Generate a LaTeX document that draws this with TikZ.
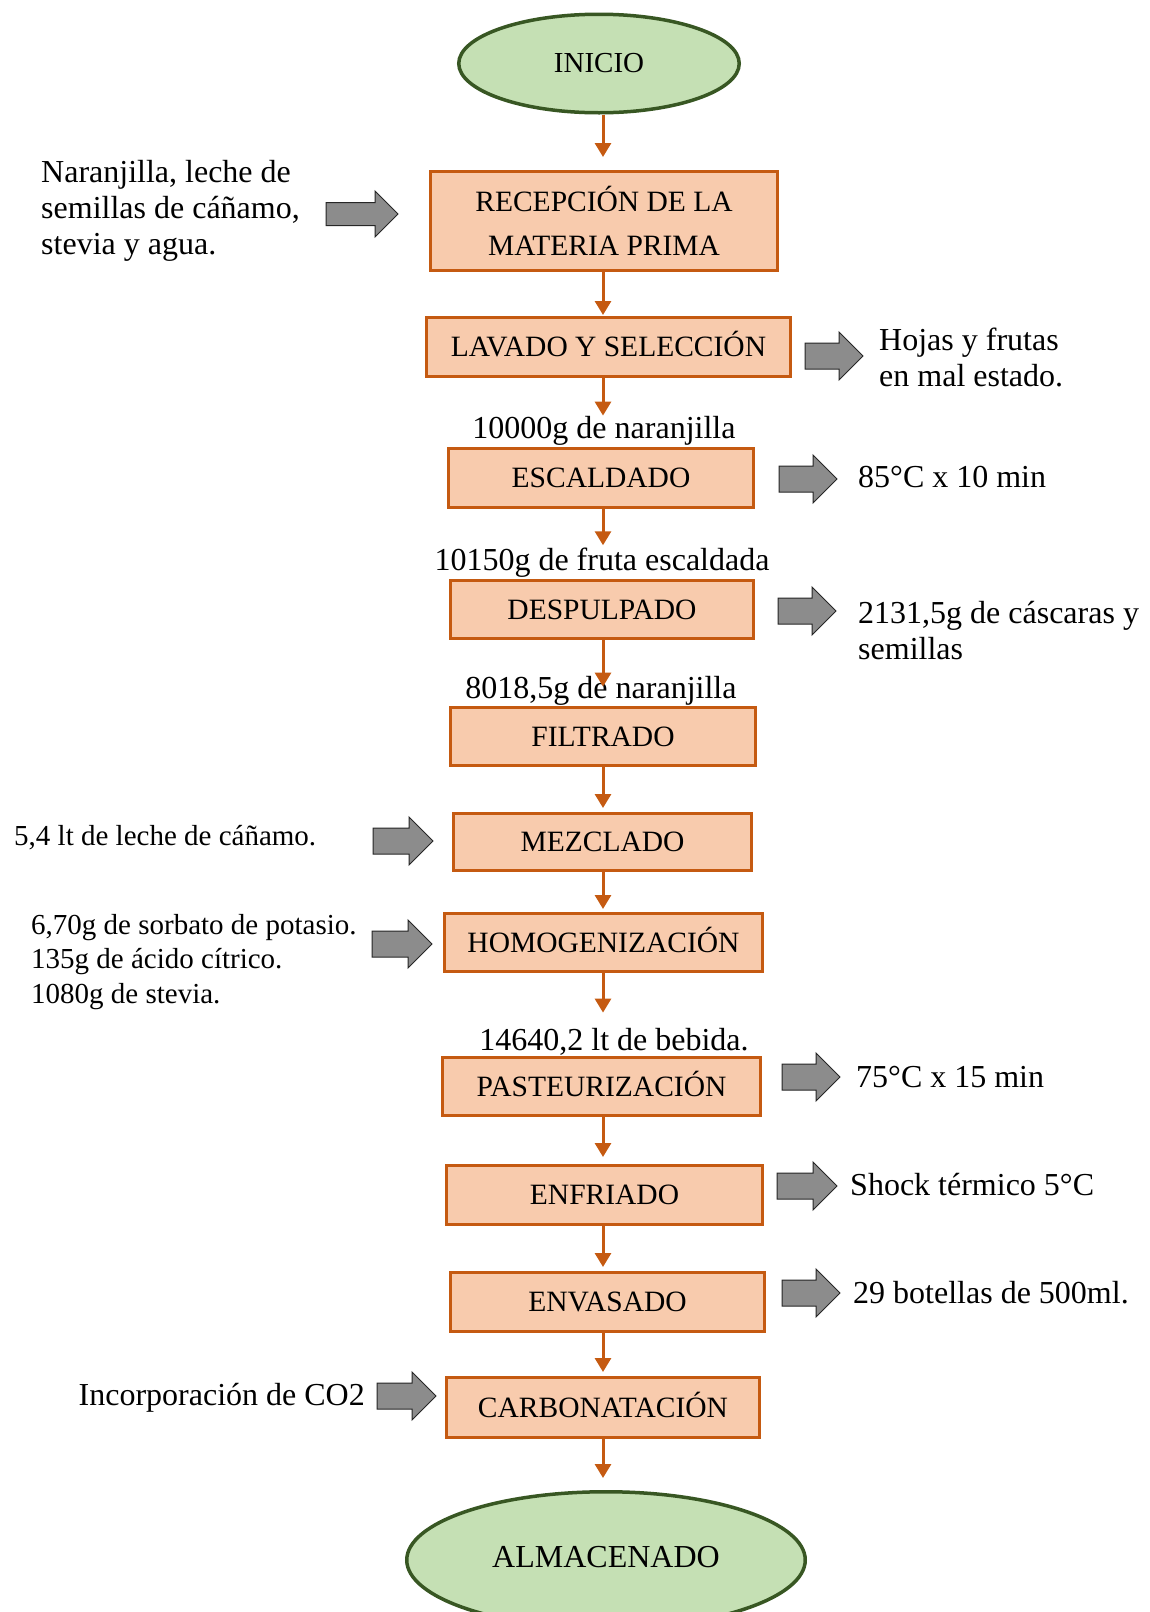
\documentclass[tikz,border=0pt]{standalone}
\usepackage{fontspec}
\setmainfont{Liberation Serif}
\usetikzlibrary{arrows.meta,shapes.geometric}

\definecolor{boxfill}{HTML}{F8CBAD}
\definecolor{boxline}{HTML}{C55A11}
\definecolor{ovalfill}{HTML}{C5E0B4}
\definecolor{ovalline}{HTML}{385723}
\definecolor{arrgray}{HTML}{8C8C8C}

% gray block arrow: left x, centre y, length, head half-height, shaft half-height, head length
\newcommand\grayarrow[6]{%
  \draw[garr] (#1,#2) ++(0,-#5) -- ++({#3-#6},0) -- ++(0,{-(#4-#5)}) -- ++(#6,#4)
    -- ++(-#6,#4) -- ++(0,{-(#4-#5)}) -- ++({-(#3-#6)},0) -- cycle;}

\tikzset{
  procbox/.style={draw=boxline, fill=boxfill, line width=3pt, inner sep=0pt,
    align=center, font=\fontsize{29.5}{44}\selectfont},
  oneline/.style={text height=19.5pt, text depth=0pt},
  oval/.style={ellipse, draw=ovalline, fill=ovalfill, line width=3.5pt, inner sep=0pt},
  flow/.style={draw=boxline, line width=3pt, -{Triangle[width=16pt,length=14pt]}},
  lbl/.style={inner sep=0pt, font=\fontsize{32}{36}\selectfont},
  slbl/.style={inner sep=0pt, font=\fontsize{29}{34.5}\selectfont},
  garr/.style={draw=black!85, line width=1pt, fill=arrgray, line join=miter}
}

\begin{document}
\begin{tikzpicture}[x=1pt, y=-1pt]
\useasboundingbox (0,0) rectangle (1149,1612);
\clip (0,0) rectangle (1149,1612);

% terminal ovals
\node[oval, minimum width=280.5pt, minimum height=98.5pt, font=\fontsize{29}{34}\selectfont]
  (inicio) at (599,63.5) {INICIO};
\node[oval, minimum width=398.5pt, minimum height=136.5pt, font=\fontsize{32}{36}\selectfont,
  text height=22pt, text depth=8pt]
  (almac) at (606,1560) {ALMACENADO};

% process steps
\node[procbox, minimum width=347pt, minimum height=99pt] (recep) at (604,221)
  {RECEPCIÓN DE LA\\MATERIA PRIMA};
\node[procbox, oneline, minimum width=364pt, minimum height=59pt] (lavado) at (608.5,347) {LAVADO Y SELECCIÓN};
\node[procbox, oneline, minimum width=305pt, minimum height=59pt] (escal) at (601,478) {ESCALDADO};
\node[procbox, oneline, minimum width=303pt, minimum height=58pt] (despul) at (602,609.5) {DESPULPADO};
\node[procbox, oneline, minimum width=305pt, minimum height=58pt] (filtr) at (603,736.5) {FILTRADO};
\node[procbox, oneline, minimum width=298pt, minimum height=57pt] (mezcl) at (602.5,842) {MEZCLADO};
\node[procbox, oneline, minimum width=318pt, minimum height=58pt] (homog) at (603.5,942.5) {HOMOGENIZACIÓN};
\node[procbox, oneline, minimum width=318pt, minimum height=58pt] (paste) at (601.5,1086.5) {PASTEURIZACIÓN};
\node[procbox, oneline, minimum width=316pt, minimum height=59pt] (enfri) at (604.5,1195) {ENFRIADO};
\node[procbox, oneline, minimum width=314pt, minimum height=59pt] (envas) at (607.5,1302) {ENVASADO};
\node[procbox, oneline, minimum width=313pt, minimum height=60pt] (carbo) at (603,1407.5) {CARBONATACIÓN};

% quantities between steps
\node[lbl, anchor=base] (q1) at (604,438) {10000g de naranjilla};
\node[lbl, anchor=base] (q2) at (602,570) {10150g de fruta escaldada};
\node[lbl, anchor=base] (q3) at (601,698) {8018,5g de naranjilla};
\node[lbl, anchor=base] (q4) at (614,1050) {14640,2 lt de bebida.};

% main flow
\coordinate (col) at (603,0);
\draw[flow, shorten >=13pt] (inicio.south -| col) -- (recep.north -| col);
\draw[flow, shorten >=1pt] (recep.south -| col) -- (lavado.north -| col);
\draw[flow] (lavado.south -| col) -- (q1.north -| col);
\draw[flow, shorten >=2pt] (escal.south -| col) -- (q2.north -| col);
\draw[flow, shorten >=-11pt] (despul.south -| col) -- (q3.north -| col);
\draw[flow, shorten >=4pt] (filtr.south -| col) -- (mezcl.north -| col);
\draw[flow, shorten >=3pt] (mezcl.south -| col) -- (homog.north -| col);
\draw[flow, shorten >=15pt] (homog.south -| col) -- (q4.north -| col);
\draw[flow, shorten >=7pt] (paste.south -| col) -- (enfri.north -| col);
\draw[flow, shorten >=4pt] (enfri.south -| col) -- (envas.north -| col);
\draw[flow, shorten >=4pt] (envas.south -| col) -- (carbo.north -| col);
\draw[flow, shorten >=12pt] (carbo.south -| col) -- (almac.north -| col);

% inputs and outputs (multi-line texts are placed by the baseline of their last line)
\grayarrow{326}{214}{72}{23}{11.5}{23}
\node[lbl, anchor=base west, align=left] (in1) at (41,254)
  {Naranjilla, leche de\\semillas de cáñamo,\\stevia y agua.};

\grayarrow{805}{356}{58}{24}{13}{24}
\node[lbl, anchor=base west, align=left] (out1) at (879,386) {Hojas y frutas\\en mal estado.};

\grayarrow{779}{479}{58}{24}{13}{24}
\node[lbl, anchor=base west] (cond1) at (858,487) {85°C x 10 min};

\grayarrow{778}{611}{58}{24}{13}{24}
\node[lbl, anchor=base west, align=left] (out2) at (858,659) {2131,5g de cáscaras y\\semillas};

\grayarrow{373}{841}{60}{24}{13}{24}
\node[slbl, anchor=base west] (in2) at (14,845) {5,4 lt de leche de cáñamo.};

\grayarrow{372}{944}{60}{24}{13}{24}
\node[slbl, anchor=base west, align=left] (in3) at (31,1003)
  {6,70g de sorbato de potasio.\\135g de ácido cítrico.\\1080g de stevia.};

\grayarrow{782}{1077}{58}{24}{13}{24}
\node[lbl, anchor=base west] (cond2) at (856,1087) {75°C x 15 min};

\grayarrow{777}{1186}{60}{24}{13}{24}
\node[lbl, anchor=base west] (cond3) at (850,1195) {Shock térmico 5°C};

\grayarrow{782}{1293}{58}{24}{13}{24}
\node[lbl, anchor=base west] (out3) at (853,1303) {29 botellas de 500ml.};

\grayarrow{377}{1396}{59}{24}{13}{24}
\node[lbl, anchor=base east] (in4) at (365,1405) {Incorporación de CO2};
\end{tikzpicture}
\end{document}
